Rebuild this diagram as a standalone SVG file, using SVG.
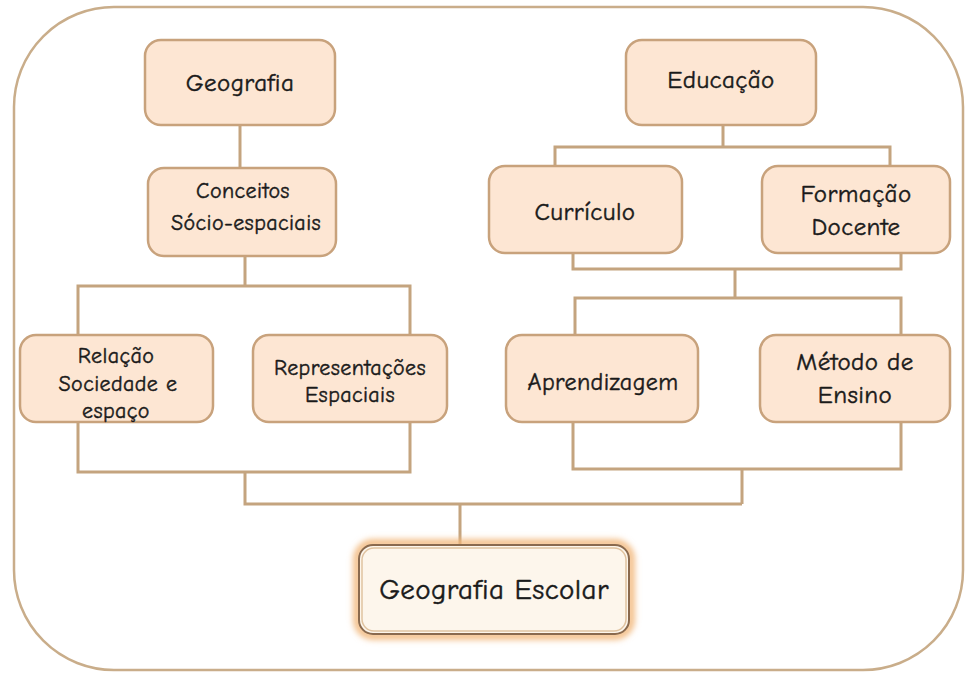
<svg xmlns="http://www.w3.org/2000/svg" width="968" height="674" viewBox="0 0 968 674">
<defs>
<filter id="glow" x="-20%" y="-30%" width="140%" height="160%">
<feGaussianBlur stdDeviation="3"/>
</filter>
</defs>
<style>
.node{fill:#fde6d3;stroke:#c8a27c;stroke-width:2.5}
.conn{fill:none;stroke:#c4a47f;stroke-width:3}
text{font-family:"Comic Sans MS","Comic Neue","Open Sans","DejaVu Sans",sans-serif;fill:#1a1a1a;stroke:#1a1a1a;stroke-width:0.45;text-anchor:middle;letter-spacing:0.4px}
.t25{font-size:25px}
.t24{font-size:24px}
.t22{font-size:22px}
</style>
<rect width="968" height="674" fill="#ffffff"/>
<rect id="frame" x="14" y="7" width="949" height="663" rx="100" ry="100" fill="none" stroke="#c9ad8a" stroke-width="2.5"/>
<g id="connectors">
<path class="conn" d="M240 125 V168"/>
<path class="conn" d="M245 256 V286 M78 335 V286 H410 V335"/>
<path class="conn" d="M78 422 V472 H410 V422 M245 472 V504 H742 M460 504 V545"/>
<path class="conn" d="M723 125 V147 M555 166 V147 H890 V166"/>
<path class="conn" d="M573 253 V269 H901 V253 M735 269 V298 M575 335 V298 H901 V335"/>
<path class="conn" d="M573 422 V469 H901 V422 M742 469 V504"/>
</g>
<g id="geografia">
<rect class="node" x="145" y="40" width="190" height="85" rx="16"/>
<text class="t25" x="240" y="91">Geografia</text>
</g>
<g id="conceitos">
<rect class="node" x="148" y="168" width="188" height="88" rx="16"/>
<text class="t22" x="243" y="198">Conceitos</text>
<text class="t22" x="246" y="230">Sócio-espaciais</text>
</g>
<g id="relacao">
<rect class="node" x="20" y="335" width="193" height="87" rx="16"/>
<text class="t22" x="116" y="363">Relação</text>
<text class="t22" x="118" y="391">Sociedade e</text>
<text class="t22" x="116" y="418">espaço</text>
</g>
<g id="representacoes">
<rect class="node" x="253" y="335" width="194" height="87" rx="16"/>
<text class="t22" x="350" y="375">Representações</text>
<text class="t22" x="350" y="402">Espaciais</text>
</g>
<g id="educacao">
<rect class="node" x="626" y="40" width="190" height="85" rx="16"/>
<text class="t25" x="721" y="88">Educação</text>
</g>
<g id="curriculo">
<rect class="node" x="489" y="166" width="193" height="87" rx="16"/>
<text class="t25" x="585" y="220">Currículo</text>
</g>
<g id="formacao">
<rect class="node" x="762" y="166" width="188" height="87" rx="16"/>
<text class="t25" x="856" y="202">Formação</text>
<text class="t25" x="856" y="235">Docente</text>
</g>
<g id="aprendizagem">
<rect class="node" x="506" y="335" width="192" height="87" rx="16"/>
<text class="t24" x="603" y="390">Aprendizagem</text>
</g>
<g id="metodo">
<rect class="node" x="760" y="335" width="190" height="87" rx="16"/>
<text class="t25" x="855" y="370">Método de</text>
<text class="t25" x="855" y="403">Ensino</text>
</g>
<g id="geografia-escolar">
<rect x="357" y="543" width="274" height="93" rx="16" fill="none" stroke="#f2b77a" stroke-width="7" filter="url(#glow)"/>
<rect x="359" y="545" width="270" height="89" rx="14" fill="#fdf6ec" stroke="#8a6a4e" stroke-width="2"/>
<rect x="362" y="548" width="264" height="83" rx="12" fill="none" stroke="#e0c3a0" stroke-width="1.5"/>
<text x="494" y="599" style="font-size:29px">Geografia Escolar</text>
</g>
</svg>
